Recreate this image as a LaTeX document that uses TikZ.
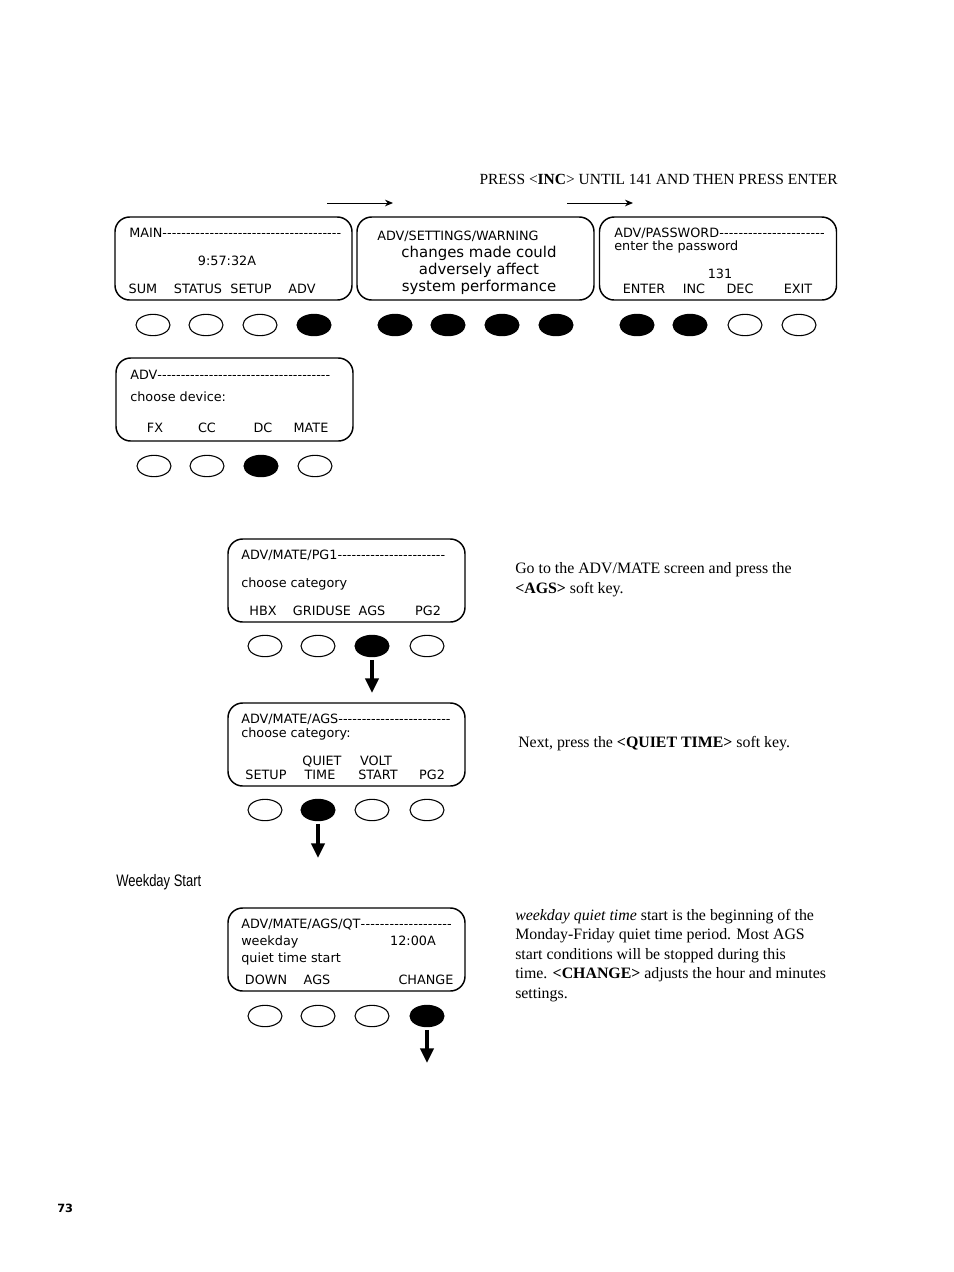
\documentclass[tikz,border=0pt]{standalone}
\usepackage{fontspec}
\setmainfont{Liberation Serif}
\newfontfamily\lcdfont{DejaVu Sans}
\newfontfamily\condfont[FakeStretch=0.78]{Liberation Sans}
\newfontfamily\pagefont{DejaVu Sans}
\usetikzlibrary{shapes.geometric,arrows.meta}
\newcommand{\dashrow}[2]{\makebox[#2][l]{#1\xleaders\hbox{-}\hfill}}

\begin{document}
\begin{tikzpicture}[x=0.75pt,y=-0.75pt,
    screen/.style={draw,line width=1.1pt,rounded corners=11pt,minimum width=177.75pt,minimum height=62.25pt},
  key/.style={draw,line width=0.8pt,ellipse,minimum width=25.5pt,minimum height=16pt,inner sep=0pt},
  keyon/.style={key,fill=black},
  lcd/.style={font=\lcdfont\fontsize{9.6}{11}\selectfont,inner sep=0pt,anchor=base west},
  lcdc/.style={lcd,anchor=base},
  warn/.style={font=\lcdfont\fontsize{11.2}{13}\selectfont,inner sep=0pt,anchor=base},
  note/.style={font=\fontsize{11.9}{14.6}\selectfont,inner sep=0pt,anchor=base west,align=left},
  flow/.style={line width=0.7pt,-{Stealth[length=6pt,width=5pt]}},
  press/.style={line width=2.4pt,-{Triangle[length=11pt,width=10pt]}},
  ]
\useasboundingbox (0,0) rectangle (954,1272);

% top row
\node[note,anchor=base east,font=\fontsize{11.6}{14}\selectfont] (hint) at (838,184) {PRESS <\textbf{INC}> UNTIL 141 AND THEN PRESS ENTER};
\coordinate (f1a) at (327,203); \coordinate (f1b) at (393,203);
\coordinate (f2a) at (567,203); \coordinate (f2b) at (633,203);
\draw[flow] (f1a) -- (f1b);
\draw[flow] (f2a) -- (f2b);

\node[screen] (main) at (233.5,258.5) {};
\node[lcd] (main1) at (129,237) {\dashrow{MAIN}{159pt}};
\node[lcdc] (main2) at (227,265) {9:57:32A};
\node[lcdc] (main3) at (143,293) {SUM};
\node[lcdc] (main4) at (198,293) {STATUS};
\node[lcdc] (main5) at (251,293) {SETUP};
\node[lcdc] (main6) at (302,293) {ADV};
\foreach \x/\s [count=\i] in {153/key,206/key,260/key,314/keyon}
  \node[\s] (ka\i) at (\x,325) {};

\node[screen] (warning) at (475.5,258.5) {};
\node[lcd] (warn1) at (377,240) {ADV/SETTINGS/WARNING};
\node[warn] (warn2) at (479,257) {changes made could};
\node[warn] (warn3) at (479,274) {adversely affect};
\node[warn] (warn4) at (479,291) {system performance};
\foreach \x [count=\i] in {395,448,502,556}
  \node[keyon] (kb\i) at (\x,325) {};

\node[screen] (password) at (718,258.5) {};
\node[lcd] (pass1) at (614,237) {\dashrow{ADV/PASSWORD}{158pt}};
\node[lcd] (pass2) at (614,250) {enter the password};
\node[lcdc] (pass3) at (720,278) {131};
\node[lcdc] (pass4) at (644,293) {ENTER};
\node[lcdc] (pass5) at (694,293) {INC};
\node[lcdc] (pass6) at (740,293) {DEC};
\node[lcdc] (pass7) at (798,293) {EXIT};
\foreach \x/\s [count=\i] in {637/keyon,690/keyon,745/key,799/key}
  \node[\s] (kc\i) at (\x,325) {};

% device
\node[screen] (device) at (234.5,399.5) {};
\node[lcd] (dev1) at (130,379) {\dashrow{ADV}{150pt}};
\node[lcd] (dev2) at (130,401) {choose device:};
\node[lcdc] (dev3) at (155,432) {FX};
\node[lcdc] (dev4) at (207,432) {CC};
\node[lcdc] (dev5) at (263,432) {DC};
\node[lcdc] (dev6) at (311,432) {MATE};
\foreach \x/\s [count=\i] in {154/key,207/key,261/keyon,315/key}
  \node[\s] (kd\i) at (\x,466) {};

% mate
\node[screen] (mate) at (346.5,580.5) {};
\node[lcd] (mate1) at (241,559) {\dashrow{ADV/MATE/PG1}{153pt}};
\node[lcd] (mate2) at (241,587) {choose category};
\node[lcdc] (mate3) at (263,615) {HBX};
\node[lcdc] (mate4) at (322,615) {GRIDUSE};
\node[lcdc] (mate5) at (372,615) {AGS};
\node[lcdc] (mate6) at (428,615) {PG2};
\foreach \x/\s [count=\i] in {265/key,318/key,372/keyon,427/key}
  \node[\s] (ke\i) at (\x,646) {};
\coordinate (pe) at (372,693);
\draw[press,shorten <=2pt] (ke3.south) -- (pe);
\node[note] (txt1) at (515,593) {Go to the ADV/MATE screen and press the\\\textbf{<AGS>} soft key.};

% ags
\node[screen] (ags) at (346.5,744.5) {};
\node[lcd] (ags1) at (241,723) {\dashrow{ADV/MATE/AGS}{157pt}};
\node[lcd] (ags2) at (241,737) {choose category:};
\node[lcdc] (ags3) at (322,765) {QUIET};
\node[lcdc] (ags4) at (376,765) {VOLT};
\node[lcdc] (ags5) at (266,779) {SETUP};
\node[lcdc] (ags6) at (320,779) {TIME};
\node[lcdc] (ags7) at (378,779) {START};
\node[lcdc] (ags8) at (432,779) {PG2};
\foreach \x/\s [count=\i] in {265/key,318/keyon,372/key,427/key}
  \node[\s] (kf\i) at (\x,810) {};
\coordinate (pf) at (318,858);
\draw[press,shorten <=2pt] (kf2.south) -- (pf);
\node[note] (txt2) at (518,747) {Next, press the \textbf{<QUIET TIME>} soft key.};

% quiet time
\node[font=\condfont\fontsize{12.5}{14}\selectfont,inner sep=0pt,anchor=base west] (title) at (116,886) {Weekday Start};
\node[screen] (qt) at (346.5,949.5) {};
\node[lcd] (qt1) at (241,928) {\dashrow{ADV/MATE/AGS/QT}{158pt}};
\node[lcd] (qt2) at (241,945) {weekday};
\node[lcdc] (qt3) at (413,945) {12:00A};
\node[lcd] (qt4) at (241,962) {quiet time start};
\node[lcdc] (qt5) at (266,984) {DOWN};
\node[lcdc] (qt6) at (317,984) {AGS};
\node[lcdc] (qt7) at (426,984) {CHANGE};
\foreach \x/\s [count=\i] in {265/key,318/key,372/key,427/keyon}
  \node[\s] (kg\i) at (\x,1016) {};
\coordinate (pg) at (427,1063);
\draw[press,shorten <=2pt] (kg4.south) -- (pg);
\node[note] (txt3) at (515,998) {\textit{weekday quiet time} start is the beginning of the\\Monday-Friday quiet time period. Most AGS\\start conditions will be stopped during this\\time. \textbf{<CHANGE>} adjusts the hour and minutes\\settings.};

\node[font=\pagefont\bfseries\fontsize{8.5}{10}\selectfont,inner sep=0pt,anchor=base west] (page) at (57,1212) {73};
\end{tikzpicture}
\end{document}
